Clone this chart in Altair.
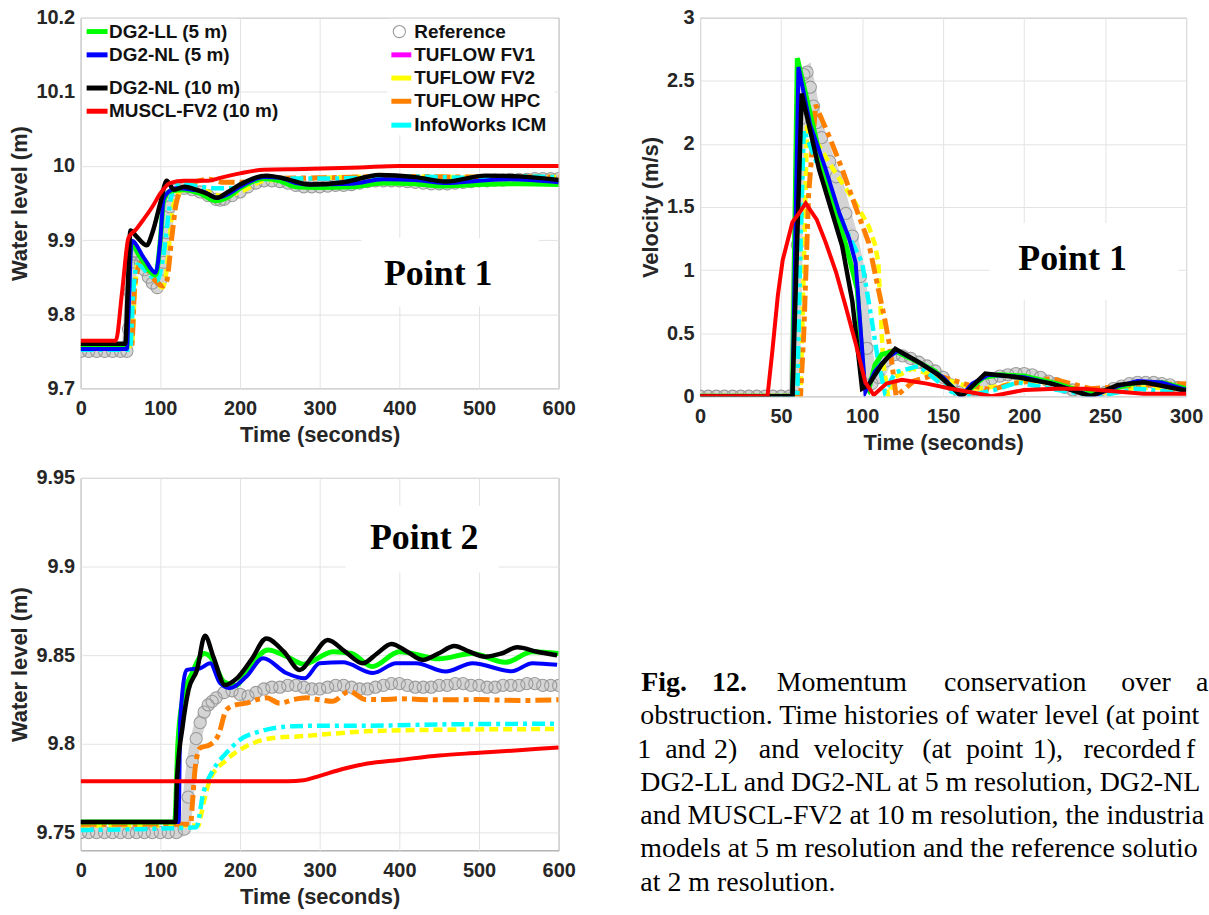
import altair as alt
import pandas as pd

# ---------------- Panel A: water level at Point 1 ----------------
A_green_t = [0, 58, 60, 63, 75, 94, 100, 104, 112, 130, 150, 170, 185, 200, 230, 250, 270, 300, 340, 380, 420, 450, 500, 550, 600]
A_green_h = [9.755, 9.755, 9.82, 9.895, 9.877, 9.853, 9.90, 9.952, 9.966, 9.968, 9.963, 9.953, 9.958, 9.97, 9.983, 9.98, 9.972, 9.971, 9.972, 9.977, 9.976, 9.973, 9.975, 9.976, 9.975]
A_blue_t = [0, 58, 60, 64, 80, 94, 100, 104, 110, 120, 140, 155, 170, 185, 200, 230, 250, 270, 290, 340, 380, 420, 460, 500, 540, 600]
A_blue_h = [9.753, 9.753, 9.80, 9.899, 9.875, 9.856, 9.90, 9.955, 9.965, 9.97, 9.968, 9.965, 9.957, 9.962, 9.972, 9.985, 9.984, 9.977, 9.975, 9.976, 9.982, 9.981, 9.977, 9.98, 9.982, 9.978]
A_black_t = [0, 56, 59, 62.5, 70, 83, 90, 100, 108, 117, 130, 145, 160, 171, 185, 200, 233, 260, 287, 330, 375, 420, 458, 508, 550, 600]
A_black_h = [9.76, 9.76, 9.83, 9.913, 9.905, 9.893, 9.91, 9.95, 9.98, 9.968, 9.972, 9.968, 9.962, 9.957, 9.965, 9.975, 9.987, 9.982, 9.975, 9.978, 9.988, 9.985, 9.979, 9.987, 9.986, 9.981]
A_red_t = [0, 44, 52, 60, 70, 79, 90, 100, 112, 130, 160, 175, 200, 230, 280, 350, 400, 600]
A_red_h = [9.764, 9.764, 9.83, 9.903, 9.915, 9.928, 9.945, 9.963, 9.977, 9.98, 9.98, 9.984, 9.99, 9.995, 9.996, 9.998, 10.0, 10.0]
A_cyan_t = [0, 62, 66, 71, 85, 96, 104, 112, 117, 130, 150, 170, 190, 230, 260, 300, 350, 400, 450, 500, 550, 600]
A_cyan_h = [9.752, 9.752, 9.83, 9.867, 9.855, 9.845, 9.88, 9.948, 9.973, 9.975, 9.972, 9.97, 9.97, 9.982, 9.983, 9.983, 9.984, 9.986, 9.985, 9.984, 9.986, 9.985]
A_yellow_t = [0, 64, 68, 72, 90, 103, 108, 114, 119, 130, 150, 175, 200, 230, 300, 400, 500, 600]
A_yellow_h = [9.757, 9.757, 9.83, 9.87, 9.85, 9.836, 9.86, 9.93, 9.957, 9.968, 9.968, 9.96, 9.965, 9.98, 9.984, 9.986, 9.985, 9.985]
A_orange_t = [0, 64, 68, 76, 90, 103, 108, 114, 120, 128, 140, 160, 180, 200, 230, 300, 400, 500, 600]
A_orange_h = [9.757, 9.757, 9.84, 9.87, 9.85, 9.838, 9.845, 9.90, 9.95, 9.97, 9.977, 9.982, 9.978, 9.978, 9.983, 9.984, 9.986, 9.985, 9.985]
A_ref_t = [0, 10, 20, 30, 40, 50, 58, 60, 62, 64, 66, 70, 75, 80, 85, 90, 96, 100, 104, 108, 112, 116, 120,
           130, 140, 150, 160, 170, 175, 180, 190, 200, 210, 220, 230, 240, 250, 260, 270, 280, 290, 300,
           310, 320, 330, 340, 350, 360, 370, 380, 390, 400, 410, 420, 430, 440, 450, 460, 470, 480, 490,
           500, 510, 520, 530, 540, 550, 560, 570, 580, 590, 600]
A_ref_h = [9.75, 9.75, 9.75, 9.75, 9.75, 9.75, 9.75, 9.78, 9.83, 9.87, 9.885, 9.88, 9.87, 9.86, 9.85, 9.842, 9.836, 9.845, 9.87, 9.91, 9.945, 9.962, 9.968,
           9.97, 9.968, 9.965, 9.96, 9.955, 9.954, 9.955, 9.96, 9.965, 9.972, 9.977, 9.98, 9.98, 9.979, 9.977, 9.974, 9.972, 9.972, 9.972,
           9.973, 9.974, 9.974, 9.975, 9.977, 9.979, 9.98, 9.98, 9.98, 9.98, 9.979, 9.978, 9.977, 9.976, 9.976, 9.976, 9.977, 9.978, 9.979,
           9.98, 9.98, 9.981, 9.981, 9.982, 9.982, 9.982, 9.983, 9.983, 9.983, 9.983]

# ---------------- Panel B: velocity at Point 1 ----------------
B_green_t = [0, 57, 60, 75, 90, 97, 101, 104, 108, 112, 120, 130, 145, 160, 165, 175, 185, 200, 220, 240, 255, 270, 285, 300]
B_green_v = [0, 0, 2.68, 1.85, 1.2, 0.85, 0.1, 0.05, 0.25, 0.33, 0.36, 0.3, 0.2, 0.02, 0.04, 0.15, 0.17, 0.16, 0.1, 0.02, 0.06, 0.11, 0.11, 0.06]
B_blue_t = [0, 57, 60.7, 68, 77.5, 86, 92, 96, 102, 108, 115, 122, 135, 150, 161, 168, 178, 190, 200, 220, 242, 258, 270, 285, 300]
B_blue_v = [0, 0, 2.61, 2.15, 1.80, 1.45, 1.25, 1.06, 0.035, 0.2, 0.3, 0.36, 0.27, 0.15, 0.0, 0.1, 0.17, 0.16, 0.15, 0.09, 0.0, 0.08, 0.12, 0.11, 0.05]
B_black_t = [0, 57, 62.7, 73.4, 87.7, 94, 100, 104, 112, 120.5, 135, 147, 161.5, 176, 196, 217, 241, 258, 274, 298, 300]
B_black_v = [0, 0, 2.40, 1.80, 1.19, 0.75, 0.06, 0.09, 0.25, 0.376, 0.27, 0.17, 0.0, 0.18, 0.15, 0.1, 0.0, 0.09, 0.11, 0.05, 0.05]
B_red_t = [0, 41.6, 44.7, 48, 51, 57, 61, 65.2, 72, 77.5, 84, 89.7, 96, 102, 107.2, 115, 124.5, 140, 155, 168, 180, 200, 220, 237, 255, 274, 300]
B_red_v = [0, 0, 0.37, 0.8, 1.08, 1.38, 1.45, 1.53, 1.4, 1.22, 0.98, 0.72, 0.42, 0.11, 0.01, 0.1, 0.13, 0.1, 0.06, 0.03, 0.0, 0.05, 0.06, 0.06, 0.04, 0.02, 0.02]
B_cyan_t = [0, 60, 62, 64, 72, 81.6, 90, 100, 106, 110, 114, 120.5, 135, 155, 165, 182, 196, 221, 245, 270, 300]
B_cyan_v = [0, 0, 1.2, 2.11, 1.85, 1.58, 1.32, 1.06, 0.6, 0.27, 0.035, 0.19, 0.24, 0.035, 0.0, 0.05, 0.11, 0.05, 0.0, 0.06, 0.02]
B_orange_t = [0, 62, 64, 67, 71.3, 80, 87.7, 96, 104, 110, 114, 117, 121, 132, 145, 165.6, 180, 192, 217, 241, 274, 300]
B_orange_v = [0, 0, 0.5, 1.6, 2.31, 2.05, 1.8, 1.5, 1.22, 0.85, 0.61, 0.4, 0.0, 0.12, 0.17, 0.09, 0.05, 0.1, 0.14, 0.06, 0.09, 0.1]
B_yellow_t = [0, 62, 64, 66, 75, 83.6, 95, 104, 108, 110, 113, 116, 120, 131, 150, 170, 185, 200, 220, 245, 270, 300]
B_yellow_v = [0, 0, 1.0, 2.15, 1.95, 1.77, 1.55, 1.35, 1.2, 1.06, 0.27, 0.0, 0.15, 0.22, 0.14, 0.06, 0.08, 0.12, 0.1, 0.02, 0.07, 0.06]
B_ref_t = [0, 5, 10, 15, 20, 25, 30, 35, 40, 45, 50, 55, 58, 60, 62, 64, 66, 68, 70, 72, 75, 80, 84, 90, 94, 99, 103, 106,
           110, 115, 120, 125, 130, 135, 140, 145, 150, 155, 160, 165, 170, 175, 180, 185, 190, 195, 200, 205, 210, 215,
           220, 225, 230, 235, 240, 245, 250, 255, 260, 265, 270, 275, 280, 285, 290, 295, 300]
B_ref_v = [0, 0, 0, 0, 0, 0, 0, 0, 0, 0, 0, 0, 0, 1.2, 2.2, 2.55, 2.57, 2.45, 2.3, 2.17, 2.05, 1.86, 1.74, 1.45, 1.27, 0.95, 0.38, 0.1,
           0.15, 0.28, 0.33, 0.32, 0.3, 0.27, 0.24, 0.2, 0.15, 0.09, 0.03, 0.0, 0.05, 0.1, 0.14, 0.16, 0.17, 0.18, 0.18, 0.17, 0.15, 0.12,
           0.1, 0.07, 0.05, 0.02, 0.0, 0.0, 0.03, 0.06, 0.08, 0.1, 0.11, 0.11, 0.11, 0.1, 0.09, 0.07, 0.06]

# ---------------- Panel C: water level at Point 2 ----------------
C_red_t = [0, 260, 280, 300, 330, 360, 400, 450, 500, 550, 600]
C_red_h = [9.779, 9.779, 9.7795, 9.782, 9.786, 9.789, 9.791, 9.7935, 9.795, 9.7965, 9.798]
C_black_t = [0, 119, 121, 128, 135.4, 146, 156, 166.7, 181, 196, 215, 233, 255, 275, 292, 310, 332, 354, 372, 390, 410, 429, 449, 469, 488, 508, 528, 548, 573, 598]
C_black_h = [9.756, 9.756, 9.78, 9.81, 9.8305, 9.8417, 9.861, 9.849, 9.8333, 9.837, 9.848, 9.8595, 9.852, 9.8417, 9.85, 9.8586, 9.852, 9.8455, 9.851, 9.8564, 9.852, 9.8474, 9.851, 9.8552, 9.852, 9.8492, 9.851, 9.8545, 9.852, 9.850]
C_green_t = [0, 118, 122, 128, 140, 155, 165, 180, 195, 210, 235, 260, 280, 317, 340, 366, 400, 450, 491, 533, 567, 600]
C_green_h = [9.756, 9.756, 9.80, 9.825, 9.84, 9.851, 9.848, 9.835, 9.833, 9.842, 9.853, 9.849, 9.845, 9.852, 9.851, 9.8436, 9.852, 9.848, 9.851, 9.846, 9.852, 9.851]
C_blue_t = [0, 123, 125, 133, 150, 162.5, 175, 187.5, 208, 229, 258, 281, 300, 329, 367, 396, 421, 458, 492, 541, 567, 598]
C_blue_h = [9.756, 9.756, 9.8137, 9.8417, 9.8427, 9.8455, 9.8343, 9.8315, 9.838, 9.8483, 9.84, 9.837, 9.8455, 9.846, 9.840, 9.8455, 9.8455, 9.8408, 9.8455, 9.841, 9.8455, 9.8446]
C_orange_t = [0, 138, 140, 144, 150, 162.5, 173, 183, 196, 208, 221, 233, 250, 267, 283, 300, 316, 337, 358, 379, 400, 441, 500, 550, 600]
C_orange_h = [9.7547, 9.7547, 9.765, 9.7874, 9.7977, 9.7996, 9.8052, 9.8193, 9.8222, 9.823, 9.825, 9.826, 9.823, 9.825, 9.826, 9.8249, 9.824, 9.8296, 9.825, 9.825, 9.8255, 9.8249, 9.825, 9.8245, 9.8249]
C_cyan_t = [0, 145, 154, 166.7, 183, 200, 225, 267, 300, 358, 450, 598]
C_cyan_h = [9.7515, 9.753, 9.7725, 9.7856, 9.795, 9.8024, 9.8071, 9.810, 9.8103, 9.8103, 9.811, 9.8114]
C_yellow_t = [0, 148, 150, 156, 162.5, 183, 208, 242, 275, 300, 358, 450, 598]
C_yellow_h = [9.754, 9.754, 9.7575, 9.77, 9.780, 9.791, 9.7987, 9.8034, 9.8043, 9.8052, 9.8071, 9.808, 9.8084]
C_ref_t = [0, 10, 20, 30, 40, 50, 60, 70, 80, 90, 100, 110, 120, 130, 135, 140, 145, 150, 155, 160, 165, 170, 180, 190, 200,
           210, 220, 230, 240, 250, 260, 270, 280, 290, 300, 310, 320, 330, 340, 350, 360, 370, 380, 390, 400, 410, 420, 430,
           440, 450, 460, 470, 480, 490, 500, 510, 520, 530, 540, 550, 560, 570, 580, 590, 600]
C_ref_h = [9.75, 9.75, 9.75, 9.75, 9.75, 9.75, 9.75, 9.75, 9.75, 9.75, 9.75, 9.75, 9.75, 9.752, 9.77, 9.79, 9.803, 9.812, 9.818, 9.822, 9.824, 9.826, 9.829, 9.83, 9.828,
           9.827, 9.829, 9.831, 9.832, 9.832, 9.833, 9.833, 9.832, 9.831, 9.831, 9.832, 9.833, 9.833, 9.832, 9.831, 9.831, 9.832, 9.833, 9.834, 9.834, 9.833, 9.832, 9.832,
           9.832, 9.833, 9.833, 9.834, 9.834, 9.833, 9.833, 9.832, 9.832, 9.833, 9.833, 9.833, 9.834, 9.834, 9.833, 9.833, 9.833]

# ---------------- legend and caption text ----------------
legend_left = ["DG2-LL (5 m)", "DG2-NL (5 m)", "DG2-NL (10 m)", "MUSCL-FV2 (10 m)"]
legend_left_colors = ["#00ff00", "#0000ff", "#000000", "#ff0000"]
legend_right = ["Reference", "TUFLOW FV1", "TUFLOW FV2", "TUFLOW HPC", "InfoWorks ICM"]
legend_right_colors = [None, "#ff00ff", "#ffff00", "#ff8000", "#00ffff"]

caption_line1 = [("Fig.", "bold"), ("12.", "bold"), ("Momentum", "normal"), ("conservation", "normal"), ("over", "normal"), ("a", "normal")]
caption_line3 = ["1", "and", "2)", "and", "velocity", "(at", "point", "1),", "recorded", "for"]
caption_lines = ["obstruction. Time histories of water level (at points",
                 None,
                 "DG2-LL and DG2-NL at 5 m resolution, DG2-NL",
                 "and MUSCL-FV2 at 10 m resolution, the industrial",
                 "models at 5 m resolution and the reference solution",
                 "at 2 m resolution."]

SANS = "Liberation Sans"
SERIF = "Liberation Serif"
GREEN, BLUE, BLACK, RED = "#00ff00", "#0000ff", "#000000", "#ff0000"
YELLOW, ORANGE, CYAN = "#ffff00", "#ff8000", "#00ffff"
REF_EDGE, REF_BAND = "#9a9a9a", "#d4d4d4"

dummy = pd.DataFrame({"k": [0]})


def encodings(xdom, xvals, ydom, yvals, ytitle):
    x = alt.X("t:Q", scale=alt.Scale(domain=xdom, nice=False, zero=False),
              axis=alt.Axis(values=xvals, title="Time (seconds)", format="~f",
                            labelPadding=10, titlePadding=6))
    y = alt.Y("v:Q", scale=alt.Scale(domain=ydom, nice=False, zero=False),
              axis=alt.Axis(values=yvals, title=ytitle, format="~f"))
    return x, y


def line(t, v, color, width, x, y, interp, dash=None):
    kw = dict(color=color, strokeWidth=width, clip=True, interpolate=interp)
    if dash:
        kw["strokeDash"] = dash
    return alt.Chart(pd.DataFrame({"t": t, "v": v})).mark_line(**kw).encode(x=x, y=y)


def reference(t, v, x, y, interp):
    df = pd.DataFrame({"t": t, "v": v})
    band = alt.Chart(df).mark_line(color=REF_BAND, strokeWidth=11, clip=True, interpolate=interp).encode(x=x, y=y)
    pts = alt.Chart(df).mark_point(shape="circle", size=150, filled=False, color=REF_EDGE,
                                   strokeWidth=1.1, opacity=1, clip=True).encode(x=x, y=y)
    return [band, pts]


def white_box(x0, x1, y0, y1):
    return alt.Chart(dummy).mark_rect(color="white").encode(
        x=alt.value(x0), x2=alt.value(x1), y=alt.value(y0), y2=alt.value(y1))


def text(txt, x, y, size, font, weight="normal", align="left", limit=None, color="black"):
    kw = dict(font=font, fontSize=size, fontWeight=weight, align=align, baseline="middle", color=color)
    if limit is not None:
        kw["limit"] = limit
        kw["ellipsis"] = "\u200b"
    return alt.Chart(dummy).mark_text(**kw).encode(x=alt.value(x), y=alt.value(y), text=alt.value(txt))


def legend_line(x0, x1, y, color):
    return alt.Chart(dummy).mark_rule(color=color, strokeWidth=5).encode(
        x=alt.value(x0), x2=alt.value(x1), y=alt.value(y))


def series_layers(d, x, y, interp):
    layers = reference(d["ref"][0], d["ref"][1], x, y, interp)
    layers.append(line(*d["yellow"], YELLOW, 4.5, x, y, interp, dash=[9, 5]))
    layers.append(line(*d["orange"], ORANGE, 5, x, y, interp, dash=[16, 5, 5, 5]))
    layers.append(line(*d["cyan"], CYAN, 4.5, x, y, interp, dash=[13, 5, 4, 5]))
    layers.append(line(*d["green"], GREEN, 5, x, y, interp))
    layers.append(line(*d["blue"], BLUE, 4, x, y, interp))
    layers.append(line(*d["black"], BLACK, 4.5, x, y, interp))
    layers.append(line(*d["red"], RED, 4, x, y, interp))
    return layers


# ---------- Panel A ----------
xA, yA = encodings([0, 600], [0, 100, 200, 300, 400, 500, 600], [9.7, 10.2],
                   [9.7, 9.8, 9.9, 10.0, 10.1, 10.2], "Water level (m)")
dA = dict(ref=(A_ref_t, A_ref_h), yellow=(A_yellow_t, A_yellow_h), orange=(A_orange_t, A_orange_h),
          cyan=(A_cyan_t, A_cyan_h), green=(A_green_t, A_green_h), blue=(A_blue_t, A_blue_h),
          black=(A_black_t, A_black_h), red=(A_red_t, A_red_h))
A_layers = [white_box(2, 158, 1, 103), white_box(308, 476, 1, 118), white_box(282, 460, 221, 290)]
A_layers += series_layers(dA, xA, yA, "monotone")
A_layers.append(text("Point 1", 359, 257, 36, SERIF, "bold", "center"))
rows_left = [13.8, 37.2, 70.5, 93.8]
for lab, col, ry in zip(legend_left, legend_left_colors, rows_left):
    A_layers.append(legend_line(6, 27, ry, col))
    A_layers.append(text(lab, 28.5, ry, 19, SANS, "bold", color="#111111"))
rows_right = [13.8, 37.2, 60.5, 83.8, 107.8]
for lab, col, ry in zip(legend_right, legend_right_colors, rows_right):
    if col is None:
        A_layers.append(alt.Chart(dummy).mark_point(shape="circle", size=150, filled=False, color=REF_EDGE,
                                                    strokeWidth=1.1, opacity=1).encode(x=alt.value(320), y=alt.value(ry)))
    else:
        A_layers.append(legend_line(312, 332, ry, col))
    A_layers.append(text(lab, 335, ry, 19, SANS, "bold", color="#111111"))
chartA = alt.layer(*A_layers).properties(width=480, height=372)

# ---------- Panel B ----------
xB, yB = encodings([0, 300], [0, 50, 100, 150, 200, 250, 300], [0, 3],
                   [0, 0.5, 1, 1.5, 2, 2.5, 3], "Velocity (m/s)")
dB = dict(ref=(B_ref_t, B_ref_v), yellow=(B_yellow_t, B_yellow_v), orange=(B_orange_t, B_orange_v),
          cyan=(B_cyan_t, B_cyan_v), green=(B_green_t, B_green_v), blue=(B_blue_t, B_blue_v),
          black=(B_black_t, B_black_v), red=(B_red_t, B_red_v))
B_layers = [white_box(291, 480, 206, 283)]
B_layers += series_layers(dB, xB, yB, "linear")
B_layers.append(text("Point 1", 374, 242, 36, SERIF, "bold", "center"))
chartB = alt.layer(*B_layers).properties(width=488, height=380)

# ---------- Panel C ----------
xC, yC = encodings([0, 600], [0, 100, 200, 300, 400, 500, 600], [9.74, 9.95],
                   [9.75, 9.8, 9.85, 9.9, 9.95], "Water level (m)")
dC = dict(ref=(C_ref_t, C_ref_h), yellow=(C_yellow_t, C_yellow_h), orange=(C_orange_t, C_orange_h),
          cyan=(C_cyan_t, C_cyan_h), green=(C_green_t, C_green_h), blue=(C_blue_t, C_blue_h),
          black=(C_black_t, C_black_h), red=(C_red_t, C_red_h))
C_layers = [white_box(266, 420, 28, 95)]
C_layers += series_layers(dC, xC, yC, "monotone")
C_layers.append(text("Point 2", 345, 60, 36, SERIF, "bold", "center"))
chartC = alt.layer(*C_layers).properties(width=480, height=374)

# ---------- Caption (x relative to the velocity panel's left edge) ----------
ORIGIN_X = 697
RIGHT_EDGE = 1208
D_TOP = 454
line_y = [683 + 33.4 * i - D_TOP for i in range(7)]
cap_layers = []
x1_abs = [638, 709, 774, 942, 1120, 1195]
for (w, weight), xa in zip(caption_line1, x1_abs):
    cap_layers.append(text(w, xa - ORIGIN_X, line_y[0], 28, SERIF, weight, limit=max(RIGHT_EDGE - xa, 1)))
x3_abs = [634, 662, 711, 756, 811, 920, 964, 1031, 1082, 1185]
for w, xa in zip(caption_line3, x3_abs):
    cap_layers.append(text(w, xa - ORIGIN_X, line_y[2], 28, SERIF, limit=max(RIGHT_EDGE - xa, 1)))
for i, s in enumerate(caption_lines):
    if s is None:
        continue
    cap_layers.append(text(s, 637 - ORIGIN_X, line_y[i + 1], 28, SERIF, limit=RIGHT_EDGE - 637))
chartD = alt.layer(*cap_layers).properties(width=500, height=440,
                                           view=alt.ViewBackground(stroke="transparent"))

left = alt.vconcat(chartA, chartC, spacing=21)
right = alt.vconcat(chartB, chartD, spacing=0)
chart = alt.hconcat(left, right, spacing=60).properties(
    padding={"left": 8, "top": 5, "right": 0, "bottom": 0},
    background="white",
).configure_axis(
    labelFont=SANS, labelFontSize=20, labelFontWeight="bold", labelColor="#262626",
    titleFont=SANS, titleFontSize=22, titleFontWeight="bold", titleColor="#262626",
    grid=True, gridColor="#e3e3e3", gridWidth=1, domain=False, ticks=False,
    labelPadding=6, titlePadding=4, labelFlush=False,
).configure_view(stroke="#8c8c8c", strokeWidth=1)

chart.save("out.html", embed_options={"renderer": "svg", "actions": False})
